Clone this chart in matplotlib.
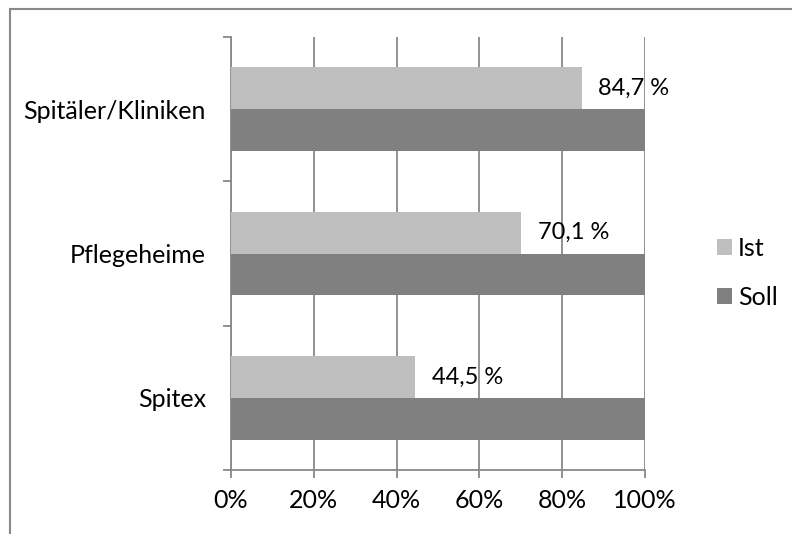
import numpy as np
import matplotlib.pyplot as plt
from matplotlib.patches import Rectangle

# Daten
kategorien = ['Spitex', 'Pflegeheime', 'Spitäler/Kliniken']
ist = [44.5, 70.1, 84.7]
soll = [100, 100, 100]
ist_labels = ['44,5 %', '70,1 %', '84,7 %']
xticks = [0, 20, 40, 60, 80, 100]
xtick_labels = ['0%', '20%', '40%', '60%', '80%', '100%']

plt.rcParams['font.family'] = ['Lato', 'DejaVu Sans']
grau = '#898989'

fig = plt.figure(figsize=(7.92, 5.34), dpi=100)
ax = fig.add_axes([231/792, 1 - 470/534, 414/792, 433/534])

y = np.arange(len(kategorien))
h = 0.29
ax.barh(y + h/2, ist, height=h, color='#BFBFBF', label='Ist', zorder=3)
ax.barh(y - h/2, soll, height=h, color='#808080', label='Soll', zorder=3)

for yi, v, t in zip(y, ist, ist_labels):
    ax.annotate(t, (v, yi + h/2), xytext=(12, 0), textcoords='offset points',
                ha='left', va='center', fontsize=17, color='black', zorder=4)

ax.set_xlim(0, 100)
ax.set_ylim(-0.5, 2.5)
ax.set_xticks(xticks)
ax.set_xticklabels(xtick_labels, fontsize=18)
ax.set_yticks(y)
ax.set_yticklabels(kategorien, fontsize=18)
ax.set_yticks(np.arange(-0.5, 3, 1), minor=True)
ax.tick_params(axis='y', which='major', length=0, pad=18)
ax.tick_params(axis='y', which='minor', length=6, width=1.3, color=grau, direction='out')
ax.tick_params(axis='x', length=6, width=1.3, color=grau, pad=8)

ax.grid(axis='x', color=grau, linewidth=1.3, zorder=0)
ax.set_axisbelow(True)
for s in ['top', 'right']:
    ax.spines[s].set_visible(False)
for s in ['left', 'bottom']:
    ax.spines[s].set_color(grau)
    ax.spines[s].set_linewidth(1.3)

leg = ax.legend(loc='center left', bbox_to_anchor=(694/792, 261/534),
                bbox_transform=fig.transFigure, frameon=False, fontsize=18,
                handlelength=0.6, handleheight=0.6, handletextpad=0.25,
                labelspacing=1.05)

# Rahmen
fig.patches.append(Rectangle((10/792, -0.5), 2, 0.5 + 1 - 9/534, transform=fig.transFigure,
                             fill=False, edgecolor=grau, linewidth=1.5))

fig.savefig('out.png', dpi=100)
